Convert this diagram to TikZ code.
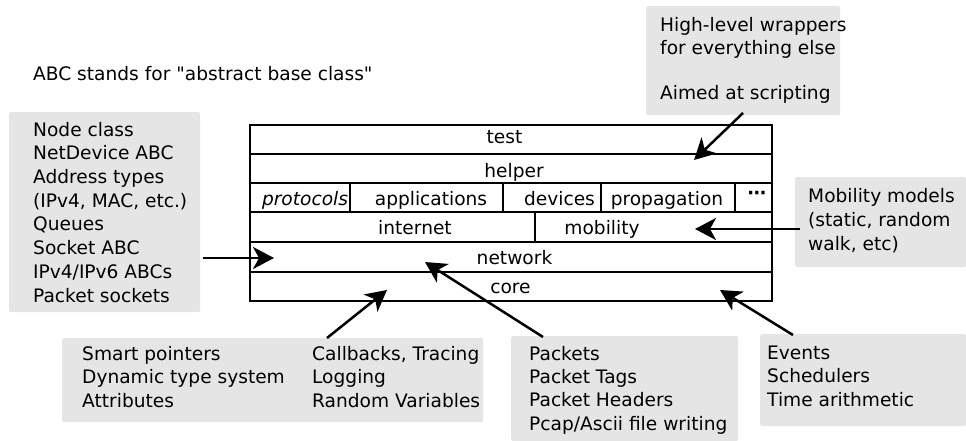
\documentclass[tikz,border=0pt]{standalone}
\usepackage{fontspec}
\setmainfont{DejaVu Sans}[Ligatures=TeXOff]
\usetikzlibrary{arrows.meta}
\definecolor{boxgray}{RGB}{229,229,229}
\tikzset{
  every node/.style={font={\fontsize{18.6}{23.5}\selectfont}},
  cell/.style={draw, line width=2.6pt, inner sep=0pt},
  lbl/.style={anchor=base, inner sep=0pt},
  graybox/.style={fill=boxgray, inner sep=0pt, anchor=north west, rounded corners=1.5pt},
  info/.style={anchor=base west, align=left, inner sep=0pt},
  arr/.style={line width=2.5pt, -{Stealth[length=21pt,width=22pt,inset=6pt]}}
}
\begin{document}
\begin{tikzpicture}[x=1pt,y=-1pt]
\useasboundingbox (0,0) rectangle (966,441);
% gray boxes
\node[graybox, minimum width=191pt, minimum height=200pt] (boxL) at (9,112) {};
\node[graybox, minimum width=194pt, minimum height=109pt] (boxT) at (646,6) {};
\node[graybox, minimum width=171pt, minimum height=90pt] (boxM) at (795,177) {};
\node[graybox, minimum width=421pt, minimum height=84pt] (boxC) at (62,338) {};
\node[graybox, minimum width=227pt, minimum height=105pt] (boxP) at (511,336) {};
\node[graybox, minimum width=206pt, minimum height=92pt] (boxE) at (760,334) {};
% stack cells
\node[cell, minimum width=522pt, minimum height=29pt] (ctest) at (511,139.5) {};
\node[cell, minimum width=522pt, minimum height=29pt] (chelper) at (511,168.5) {};
\node[cell, minimum width=100pt, minimum height=29pt] (cprot) at (300,197.5) {};
\node[cell, minimum width=153pt, minimum height=29pt] (capp) at (426.5,197.5) {};
\node[cell, minimum width=98pt, minimum height=29pt] (cdev) at (552,197.5) {};
\node[cell, minimum width=134pt, minimum height=29pt] (cprop) at (668,197.5) {};
\node[cell, minimum width=37pt, minimum height=29pt] (cdots) at (753.5,197.5) {};
\node[cell, minimum width=285pt, minimum height=30pt] (cinet) at (392.5,227) {};
\node[cell, minimum width=237pt, minimum height=30pt] (cmob) at (653.5,227) {};
\node[cell, minimum width=522pt, minimum height=30pt] (cnet) at (511,257) {};
\node[cell, minimum width=522pt, minimum height=29pt] (ccore) at (511,286.5) {};
% stack labels
\node[lbl] (ttest) at (504.5,143) {test};
\node[lbl] (thelper) at (514,177) {helper};
\node[lbl] (tprot) at (305,205) {\itshape protocols};
\node[lbl] (tapp) at (431,205) {applications};
\node[lbl] (tdev) at (559.5,205) {devices};
\node[lbl] (tprop) at (667,205) {propagation};
\node[inner sep=0pt] (tdots) at (757,195) {\textbf{⋯}};
\node[lbl] (tinet) at (415,234) {internet};
\node[lbl] (tmob) at (602,234) {mobility};
\node[lbl] (tnet) at (514.5,264) {network};
\node[lbl] (tcore) at (510.5,293) {core};
% texts (anchored at the baseline of the last line)
\node[info] (tabc) at (33,81) {ABC stands for "abstract base class"};
\node[info, font={\fontsize{18.6}{23.7}\selectfont}] (tL) at (33,302) {Node class\\NetDevice ABC\\Address types\\(IPv4, MAC, etc.)\\Queues\\Socket ABC\\IPv4/IPv6 ABCs\\Packet sockets};
\node[info, font={\fontsize{18.6}{22.7}\selectfont}] (tT) at (660,100) {High-level wrappers\\for everything else\\[22.7pt]Aimed at scripting};
\node[info, font={\fontsize{18.6}{24}\selectfont}] (tM) at (808,250) {Mobility models\\(static, random\\walk, etc)};
\node[info] (tC1) at (82,407) {Smart pointers\\Dynamic type system\\Attributes};
\node[info] (tC2) at (312,407) {Callbacks, Tracing\\Logging\\Random Variables};
\node[info, font={\fontsize{18.6}{23.3}\selectfont}] (tP) at (529,430) {Packets\\Packet Tags\\Packet Headers\\Pcap/Ascii file writing};
\node[info] (tE) at (767,406) {Events\\Schedulers\\Time arithmetic};
% arrow endpoints
\coordinate (sL) at (203,258);  \coordinate (eL) at (274,258);
\coordinate (sT) at (743,113);  \coordinate (eT) at (694,160);
\coordinate (sM) at (800,229);  \coordinate (eM) at (695,229);
\coordinate (sC) at (327,338);  \coordinate (eC) at (387,290);
\coordinate (sP) at (543,337);  \coordinate (eP) at (425,262);
\coordinate (sE) at (793,335);  \coordinate (eE) at (720,290);
\draw[arr] (sL) -- (eL);
\draw[arr] (sT) -- (eT);
\draw[arr] (sM) -- (eM);
\draw[arr] (sC) -- (eC);
\draw[arr] (sP) -- (eP);
\draw[arr] (sE) -- (eE);
\end{tikzpicture}
\end{document}
